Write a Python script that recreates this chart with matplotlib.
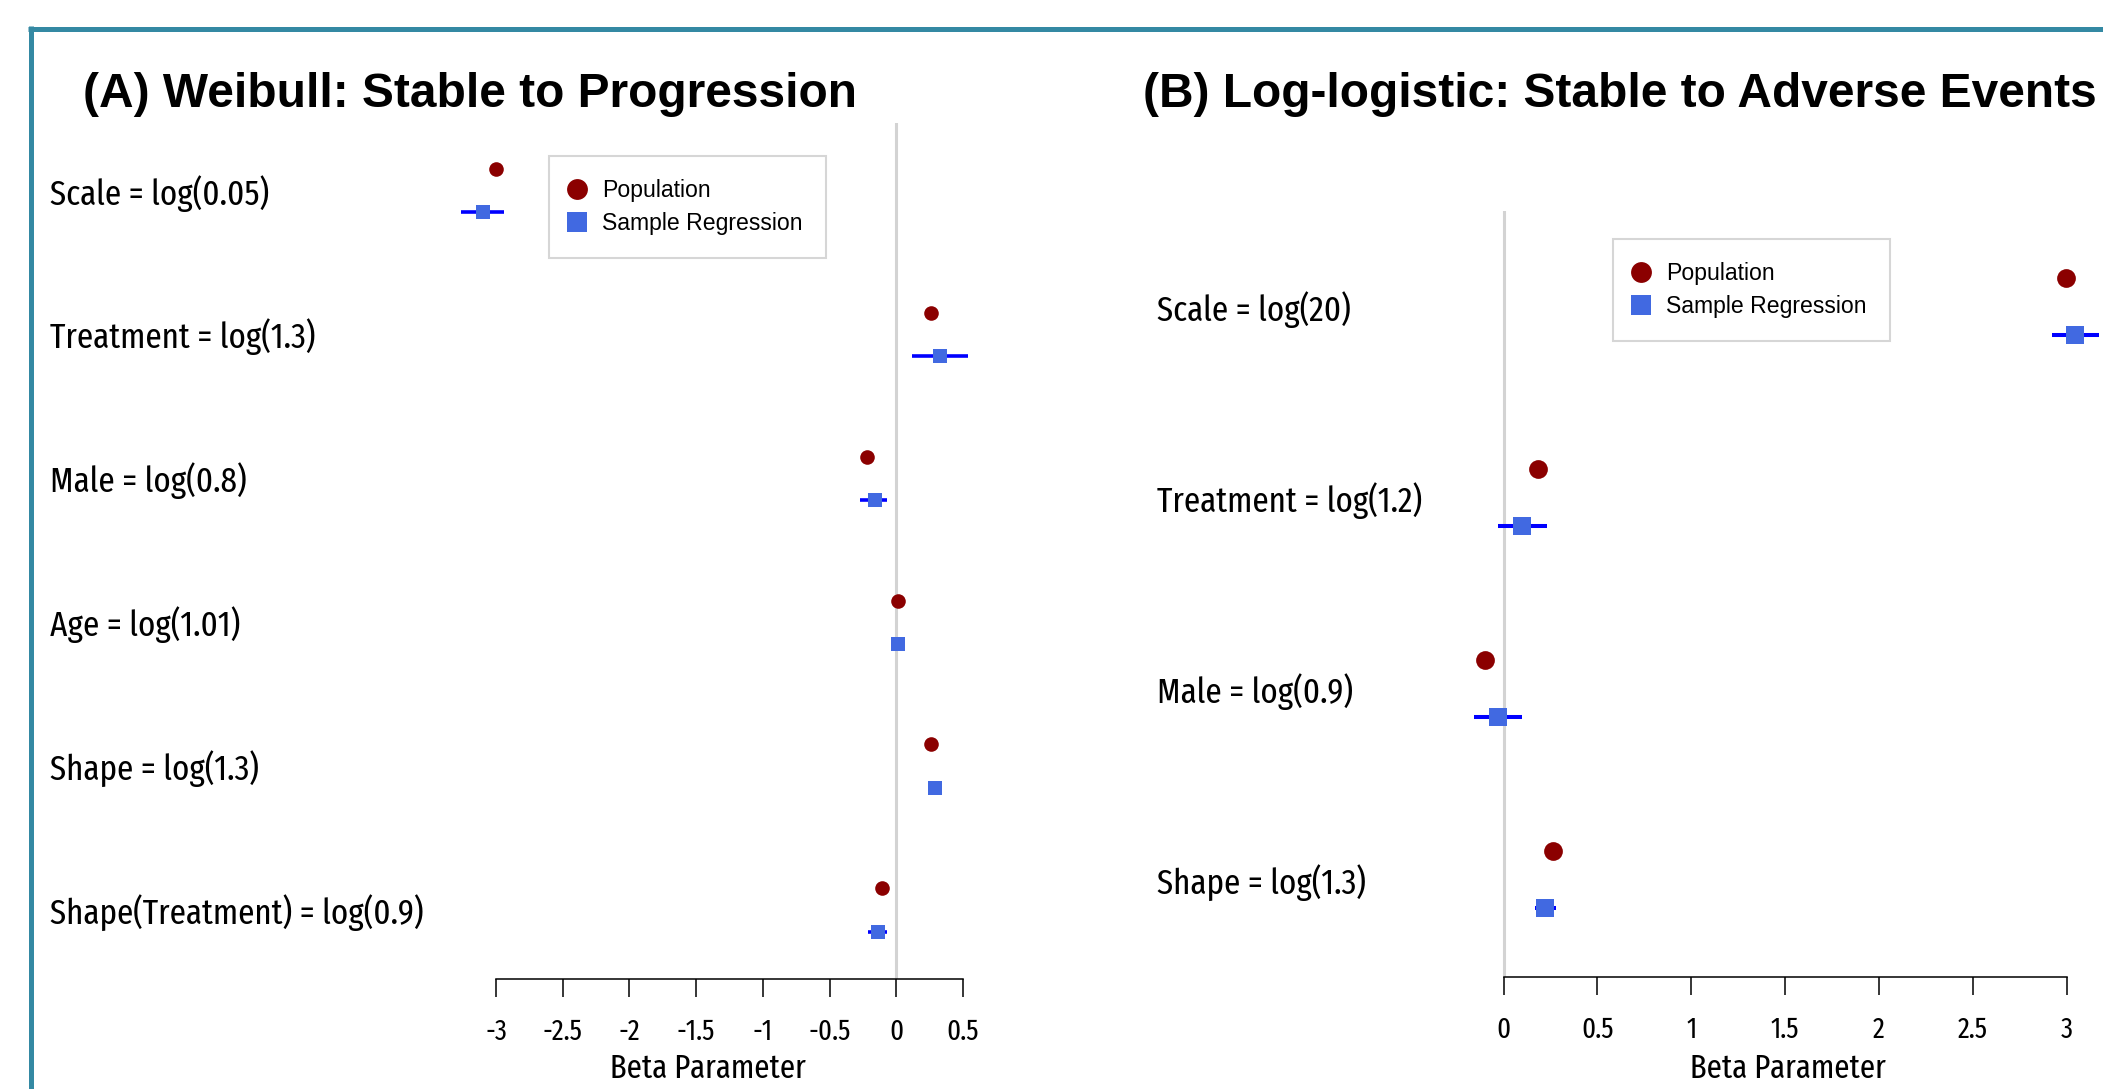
import matplotlib
matplotlib.use("Agg")
import matplotlib.pyplot as plt
from matplotlib import font_manager
from matplotlib.font_manager import FontProperties
from matplotlib.textpath import TextPath
from matplotlib.lines import Line2D
from matplotlib.transforms import blended_transform_factory, offset_copy

plt.rcParams["axes.unicode_minus"] = False

# ---------- data: (A) Weibull ----------
a_labels = ["Scale = log(0.05)", "Treatment = log(1.3)", "Male = log(0.8)",
            "Age = log(1.01)", "Shape = log(1.3)", "Shape(Treatment) = log(0.9)"]
a_pop = [-3.00, 0.262, -0.223, 0.01, 0.262, -0.105]
a_est = [-3.10, 0.33, -0.16, 0.01, 0.29, -0.14]
a_lo = [-3.26, 0.12, -0.27, 0.00, 0.245, -0.21]
a_hi = [-2.94, 0.54, -0.07, 0.02, 0.33, -0.07]
a_ticks = [-3, -2.5, -2, -1.5, -1, -0.5, 0, 0.5]
a_ticklabels = ["-3", "-2.5", "-2", "-1.5", "-1", "-0.5", "0", "0.5"]

# ---------- data: (B) Log-logistic ----------
b_labels = ["Scale = log(20)", "Treatment = log(1.2)", "Male = log(0.9)", "Shape = log(1.3)"]
b_pop = [2.996, 0.186, -0.10, 0.265]
b_est = [3.045, 0.10, -0.03, 0.22]
b_lo = [2.92, -0.03, -0.16, 0.165]
b_hi = [3.17, 0.23, 0.10, 0.28]
b_ticks = [0, 0.5, 1, 1.5, 2, 2.5, 3]
b_ticklabels = ["0", "0.5", "1", "1.5", "2", "2.5", "3"]

legend_labels = ["Population", "Sample Regression"]


# ---------- pick a narrow sans (the R text in the slide is squeezed) ----------
def _metrics(fname):
    fp = FontProperties(fname=fname, size=100)
    w = TextPath((0, 0), "Scale = log(0.05)", prop=fp).get_extents().width
    cap = TextPath((0, 0), "H", prop=fp).get_extents().height
    return w, cap


cands = []
for f in font_manager.fontManager.ttflist:
    if f.style != "normal" or f.weight not in (400, "normal", "regular", "book"):
        continue
    tag = (f.name + " " + str(f.stretch) + " " + f.fname).lower()
    if "mono" in tag or ("serif" in tag and "sans" not in tag):
        continue
    if any(k in tag for k in ("narrow", "condensed")) or f.name == "Liberation Sans":
        try:
            w, cap = _metrics(f.fname)
            cands.append((abs(w / cap - 8.72), f.fname))
        except Exception:
            pass
cands.sort()
NARROW_FILE = cands[0][1] if cands else None
print("narrow font file:", NARROW_FILE)


def narrow(text, cap_px, width_px):
    # font size so that cap height ~ cap_px without getting wider than width_px
    fp = FontProperties(fname=NARROW_FILE, size=100) if NARROW_FILE else FontProperties(family="Liberation Sans", size=100)
    w = TextPath((0, 0), text, prop=fp).get_extents().width / 100
    cap = TextPath((0, 0), "H", prop=fp).get_extents().height / 100
    px = min(cap_px / cap, width_px / w)
    fp.set_size(px * 0.72)
    return fp


LABEL_FP = narrow("Scale = log(0.05)", 25, 218)
TICK_FP = narrow("-2.5", 20, 39)
XLAB_FP = narrow("Beta Parameter", 23, 203)

W, H = 2103, 1089
POP_C, EST_C, BAR_C = "#8B0000", "#4169E1", "#0000FF"
fig = plt.figure(figsize=(W / 100, H / 100), dpi=100)


def px_axes(l, t, r, b):
    return fig.add_axes([l / W, 1 - b / H, (r - l) / W, (b - t) / H])


def panel(ax, labels, pop, est, lo, hi, ticks, ticklabels, xlim, ylim,
          label_px, ms_pop, ms_est, bar_lw, xlabel_x):
    n = len(labels)
    rows = list(range(n, 0, -1))
    off = 0.15
    ax.axvline(0, color="#d3d3d3", lw=2.2, zorder=0)
    ax.hlines([r - off for r in rows], lo, hi, color=BAR_C, lw=bar_lw, zorder=2)
    ax.plot(pop, [r + off for r in rows], ls="none", marker="o", color=POP_C,
            ms=ms_pop, mew=0, zorder=3)
    ax.plot(est, [r - off for r in rows], ls="none", marker="s", color=EST_C,
            ms=ms_est, mew=0, zorder=3)
    ax.set_xlim(*xlim)
    ax.set_ylim(*ylim)
    for s in ["top", "right", "left"]:
        ax.spines[s].set_visible(False)
    ax.spines["bottom"].set_bounds(ticks[0], ticks[-1])
    ax.spines["bottom"].set_linewidth(1.1)
    ax.set_yticks([])
    ax.set_xticks(ticks)
    ax.set_xticklabels(ticklabels, fontproperties=TICK_FP)
    ax.tick_params(axis="x", direction="out", length=12.7, width=1.1, pad=15)
    tr = offset_copy(blended_transform_factory(fig.transFigure, ax.transData),
                     fig=fig, y=-14, units="dots")
    for r, lab in zip(rows, labels):
        ax.text(label_px / W, r, lab, transform=tr, ha="left", va="baseline",
                fontproperties=LABEL_FP, clip_on=False)
    ax.set_xlabel("Beta Parameter", fontproperties=XLAB_FP)
    ax.xaxis.label.set_va("baseline")
    ax.xaxis.set_label_coords(xlabel_x, 1 - 1078 / H,
                              transform=blended_transform_factory(ax.transData, fig.transFigure))
    ax.patch.set_visible(False)


def legend(l, t, ms):
    handles = [Line2D([], [], ls="none", marker="o", color=POP_C, ms=ms, mew=0),
               Line2D([], [], ls="none", marker="s", color=EST_C, ms=ms, mew=0)]
    lg = fig.legend(handles, legend_labels, loc="upper left",
                    bbox_to_anchor=(l / W, 1 - t / H), borderaxespad=0,
                    prop={"family": "Liberation Sans", "size": 16.6},
                    frameon=True, fancybox=False, edgecolor="#cccccc",
                    borderpad=1.0, handlelength=0.45, handletextpad=0.85,
                    labelspacing=0.45)
    lg.get_frame().set_linewidth(1.5)


# ---------- panel A ----------
axA = px_axes(440, 123, 975, 979)
panel(axA, a_labels, a_pop, a_est, a_lo, a_hi, a_ticks, a_ticklabels,
      (-3.42, 0.59), (0.52, 6.47), 50, 10.5, 10.5, 2.6, -1.415)
legend(549, 156, 15)
fig.text(83 / W, 1 - 107 / H, "(A) Weibull: Stable to Progression",
         fontfamily="Liberation Sans", fontweight="bold", fontsize=34.5, va="baseline")

# ---------- panel B ----------
axB = px_axes(1451, 211, 2125, 977)
panel(axB, b_labels, b_pop, b_est, b_lo, b_hi, b_ticks, b_ticklabels,
      (-0.28, 3.31), (0.49, 4.5), 1157, 13.5, 13.5, 2.9, 1.515)
legend(1613, 239, 15)
fig.text(1143 / W, 1 - 107 / H, "(B) Log-logistic: Stable to Adverse Events",
         fontfamily="Liberation Sans", fontweight="bold", fontsize=34.5, va="baseline")

# ---------- teal slide frame ----------
TEAL = "#3489A3"
fig.add_artist(Line2D([28 / W, 1], [1 - 28.5 / H] * 2, transform=fig.transFigure,
                      color=TEAL, lw=3.6, solid_capstyle="butt"))
fig.add_artist(Line2D([30.5 / W] * 2, [1 - 26 / H, 0], transform=fig.transFigure,
                      color=TEAL, lw=3.6, solid_capstyle="butt"))

fig.savefig("out.png", dpi=100)
print("saved out.png")
